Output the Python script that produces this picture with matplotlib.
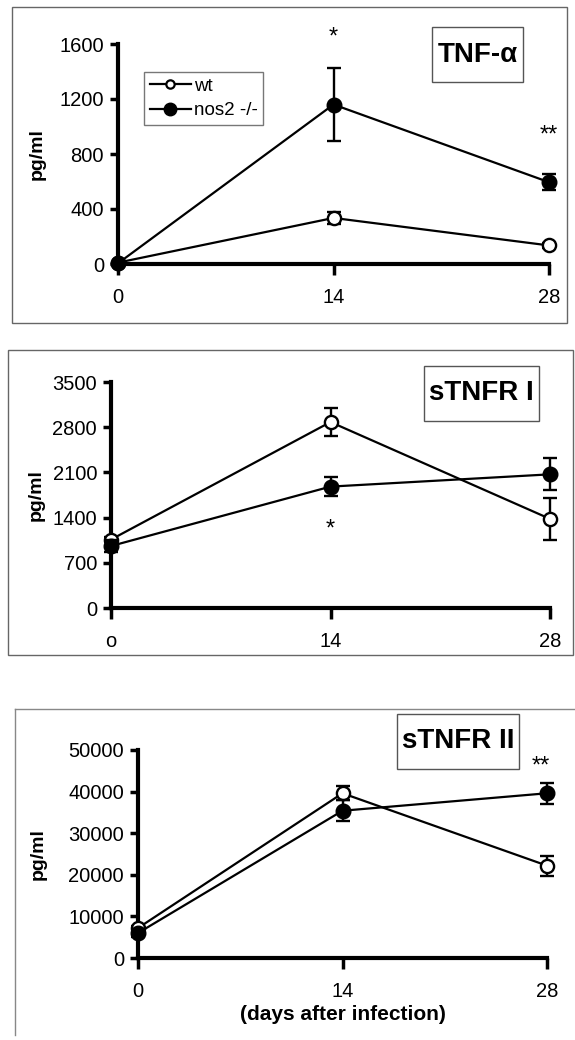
import matplotlib
matplotlib.use("Agg")
import matplotlib.pyplot as plt
from matplotlib.patches import Rectangle
from matplotlib.lines import Line2D

plt.rcParams['font.family'] = ['Liberation Sans', 'DejaVu Sans']

days = [0, 14, 28]

# TNF-alpha
tnf_wt = [10, 335, 135]
tnf_wt_err = [0, 45, 15]
tnf_ko = [5, 1160, 595]
tnf_ko_err = [0, 262, 60]

# sTNFR I
r1_wt = [1060, 2880, 1380]
r1_wt_err = [40, 215, 330]
r1_ko = [960, 1880, 2070]
r1_ko_err = [90, 150, 250]

# sTNFR II
r2_wt = [7200, 39600, 22200]
r2_wt_err = [500, 1700, 2400]
r2_ko = [6000, 35400, 39600]
r2_ko_err = [1000, 2500, 2500]

tnf_yticks = [0, 400, 800, 1200, 1600]
r1_yticks = [0, 700, 1400, 2100, 2800, 3500]
r2_yticks = [0, 10000, 20000, 30000, 40000, 50000]
xtick_labels_a = ['0', '14', '28']
xtick_labels_b = ['o', '14', '28']

W, H = 575, 1040
fig = plt.figure(figsize=(W / 100, H / 100), dpi=100)


def fx(px):
    return px / W


def fy(py):
    return 1 - py / H


def make_axes(x0, x1, ytop, ybot):
    return fig.add_axes([fx(x0), fy(ybot), fx(x1) - fx(x0), (ybot - ytop) / H])


def style(ax, yticks, xlabels):
    ax.set_xlim(0, 28)
    ax.set_ylim(0, yticks[-1])
    ax.set_yticks(yticks)
    ax.set_xticks(days)
    ax.set_xticklabels(xlabels)
    for s in ['top', 'right']:
        ax.spines[s].set_visible(False)
    for s in ['left', 'bottom']:
        ax.spines[s].set_linewidth(3)
    ax.tick_params(axis='y', direction='out', length=6, width=2.5, labelsize=14.5, pad=4)
    ax.tick_params(axis='x', direction='out', length=8, width=2.5, labelsize=14.5, pad=9)
    ax.set_ylabel('pg/ml', fontsize=14, fontweight='bold')
    ax.patch.set_alpha(0)


def plot_series(ax, wt, wt_err, ko, ko_err):
    ax.errorbar(days, wt, yerr=wt_err, color='black', lw=1.6, marker='o', ms=9.5,
                mfc='white', mec='black', mew=1.7, capsize=5, capthick=1.7,
                elinewidth=1.7, clip_on=False, zorder=5)
    ax.errorbar(days, ko, yerr=ko_err, color='black', lw=1.6, marker='o', ms=10.5,
                mfc='black', mec='black', capsize=5, capthick=1.7,
                elinewidth=1.7, clip_on=False, zorder=6)


def title_box(x0, x1, y0, y1, text, size=19):
    fig.patches.append(Rectangle((fx(x0), fy(y1)), fx(x1) - fx(x0), (y1 - y0) / H,
                                 transform=fig.transFigure, fill=False,
                                 edgecolor='#555555', lw=1))
    fig.text(fx((x0 + x1) / 2), fy((y0 + y1) / 2), text, ha='center', va='center',
             fontsize=size, fontweight='bold')


# panel frames
fig.patches.append(Rectangle((fx(12), fy(323)), fx(567) - fx(12), (323 - 7) / H,
                             transform=fig.transFigure, fill=False, edgecolor='#666666', lw=1))
fig.patches.append(Rectangle((fx(8), fy(655)), fx(573) - fx(8), (655 - 350) / H,
                             transform=fig.transFigure, fill=False, edgecolor='#666666', lw=1))
fig.lines.append(Line2D([fx(15), fx(575)], [fy(709), fy(709)], transform=fig.transFigure,
                        color='#888888', lw=1))
fig.lines.append(Line2D([fx(15), fx(15)], [fy(709), fy(1035)], transform=fig.transFigure,
                        color='#888888', lw=1))

# Panel 1: TNF-alpha
ax1 = make_axes(118, 549, 44, 264)
style(ax1, tnf_yticks, xtick_labels_a)
plot_series(ax1, tnf_wt, tnf_wt_err, tnf_ko, tnf_ko_err)
ax1.text(14, 1650, '*', ha='center', va='center', fontsize=17)
ax1.text(28, 935, '**', ha='center', va='center', fontsize=17)
title_box(432, 523, 27, 82, 'TNF-α', 20)
h_wt = Line2D([], [], color='black', lw=1.6, marker='o', ms=6, mfc='white', mec='black', mew=1.6)
h_ko = Line2D([], [], color='black', lw=1.6, marker='o', ms=9, mfc='black', mec='black')
leg = fig.legend([h_wt, h_ko], ['wt', 'nos2 -/-'], loc='upper left',
                 bbox_to_anchor=(fx(144), fy(72)), bbox_transform=fig.transFigure,
                 fontsize=13.5, frameon=True, fancybox=False, borderaxespad=0,
                 handlelength=2.2, handletextpad=0.15, borderpad=0.3, labelspacing=0.4)
leg.get_frame().set_edgecolor('#555555')
leg.get_frame().set_linewidth(1)

# Panel 2: sTNFR I
ax2 = make_axes(111, 550, 382, 608)
style(ax2, r1_yticks, xtick_labels_b)
plot_series(ax2, r1_wt, r1_wt_err, r1_ko, r1_ko_err)
ax2.text(14, 1220, '*', ha='center', va='center', fontsize=17)
title_box(424, 539, 366, 421, 'sTNFR I', 20)

# Panel 3: sTNFR II
ax3 = make_axes(138, 547, 750, 958)
style(ax3, r2_yticks, xtick_labels_a)
plot_series(ax3, r2_wt, r2_wt_err, r2_ko, r2_ko_err)
ax3.text(27.6, 46000, '**', ha='center', va='center', fontsize=17)
ax3.set_xlabel('(days after infection)', fontsize=15, fontweight='bold', labelpad=3)
title_box(397, 519, 714, 769, 'sTNFR II', 20)

# position y labels horizontally (label anchor is its right edge when rotated)
for ax, xpx in [(ax1, 46), (ax2, 45), (ax3, 47)]:
    bb = ax.get_position()
    ax.yaxis.set_label_coords((fx(xpx) - bb.x0) / bb.width, 0.5)

fig.savefig('out.png', dpi=100)
